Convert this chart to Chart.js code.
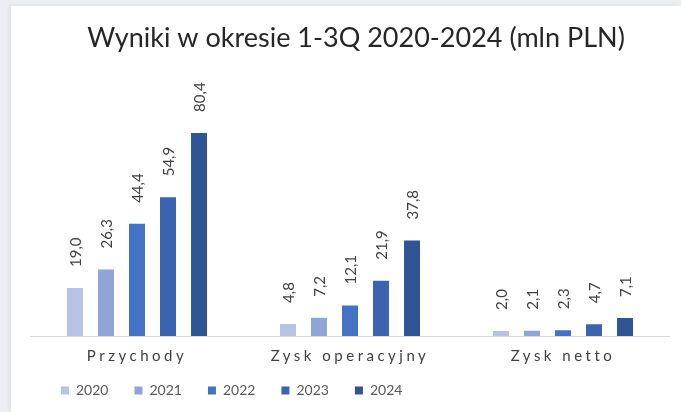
<!DOCTYPE html>
<html>
<head>
<meta charset="utf-8">
<script src="https://cdn.jsdelivr.net/npm/chart.js@4.4.1/dist/chart.umd.min.js"></script>
<style>
  html, body { margin: 0; padding: 0; }
  body { width: 681px; height: 412px; background: #eceef1; position: relative; overflow: hidden; }
  #card { position: absolute; left: 11px; top: 6px; right: 0; bottom: 0; background: #ffffff; box-shadow: -2px -1px 4px rgba(0,0,0,0.06); }
  #c { position: absolute; left: 0; top: 0; }
</style>
</head>
<body>
<div id="card"></div>
<canvas id="c" width="681" height="412"></canvas>
<script>
// ---- data ----
const categories = ['Przychody', 'Zysk operacyjny', 'Zysk netto'];
const seriesNames = ['2020', '2021', '2022', '2023', '2024'];
const values2020 = [19.0, 4.8, 2.0];
const values2021 = [26.3, 7.2, 2.1];
const values2022 = [44.4, 12.1, 2.3];
const values2023 = [54.9, 21.9, 4.7];
const values2024 = [80.4, 37.8, 7.1];
const chartTitle = 'Wyniki w okresie 1-3Q 2020-2024 (mln PLN)';

// ---- styles ----
const seriesColors = ['#b7c3e3', '#8fa5d5', '#4472c4', '#3b64b0', '#2f5597'];
const FONT = 'Lato, "Open Sans", sans-serif';

const seriesValues = [values2020, values2021, values2022, values2023, values2024];

class SpacedCategoryScale extends Chart.CategoryScale {
  static id = 'spacedCategory';
  drawLabels(chartArea) {
    const ctx = this.ctx;
    ctx.save();
    ctx.letterSpacing = '3.5px';
    super.drawLabels(chartArea);
    ctx.restore();
  }
}
Chart.register(SpacedCategoryScale);

const valueLabels = {
  id: 'valueLabels',
  afterDatasetsDraw(chart) {
    const ctx = chart.ctx;
    chart.data.datasets.forEach((ds, i) => {
      const meta = chart.getDatasetMeta(i);
      meta.data.forEach((bar, j) => {
        const v = ds.data[j];
        ctx.save();
        ctx.translate(bar.x + 1, bar.y - 21);
        ctx.rotate(-Math.PI / 2);
        ctx.font = '15px ' + FONT;
        ctx.fillStyle = '#404040';
        ctx.textAlign = 'left';
        ctx.textBaseline = 'middle';
        ctx.fillText(v.toFixed(1).replace('.', ','), 0, 0);
        ctx.restore();
      });
    });
  }
};

// fine placement of legend and title boxes
const boxTweaks = {
  id: 'boxTweaks',
  afterLayout(chart) {
    const l = chart.legend;
    if (l) {
      const pad = l.options.labels.padding;
      const itemH = l.options.labels.font.size * 1.2;
      const dx = 61 - (l.left + pad);
      const dy = 392 - (l.top + pad + itemH / 2);
      l.left += dx; l.right += dx;
      l.top += dy; l.bottom += dy;
    }
    const t = chart.titleBlock;
    if (t) { t.left += 6; t.right += 6; }
  }
};

new Chart(document.getElementById('c'), {
  type: 'bar',
  data: {
    labels: categories,
    datasets: seriesNames.map((name, i) => ({
      label: name,
      data: seriesValues[i],
      backgroundColor: seriesColors[i],
      borderWidth: 0,
      categoryPercentage: 0.728,
      barPercentage: 0.516
    }))
  },
  options: {
    responsive: false,
    animation: false,
    devicePixelRatio: 1,
    layout: { padding: { left: 30.5, right: 11.5, top: 0, bottom: -14 } },
    plugins: {
      title: {
        display: true,
        text: chartTitle,
        color: '#262626',
        font: { family: FONT, size: 27, weight: 'normal' },
        padding: { top: 22, bottom: 29 }
      },
      legend: {
        position: 'bottom',
        align: 'start',
        labels: {
          color: '#595959',
          font: { family: FONT, size: 14 },
          boxWidth: 8,
          boxHeight: 8,
          padding: 26
        }
      },
      tooltip: { enabled: false }
    },
    scales: {
      x: {
        type: 'spacedCategory',
        grid: { display: false, drawTicks: false },
        border: { display: true, color: '#d9d9d9', width: 1 },
        ticks: { color: '#404040', font: { family: FONT, size: 15 }, padding: 11, maxRotation: 0 }
      },
      y: {
        display: false,
        min: 0,
        max: 100
      }
    }
  },
  plugins: [valueLabels, boxTweaks]
});
</script>
</body>
</html>
